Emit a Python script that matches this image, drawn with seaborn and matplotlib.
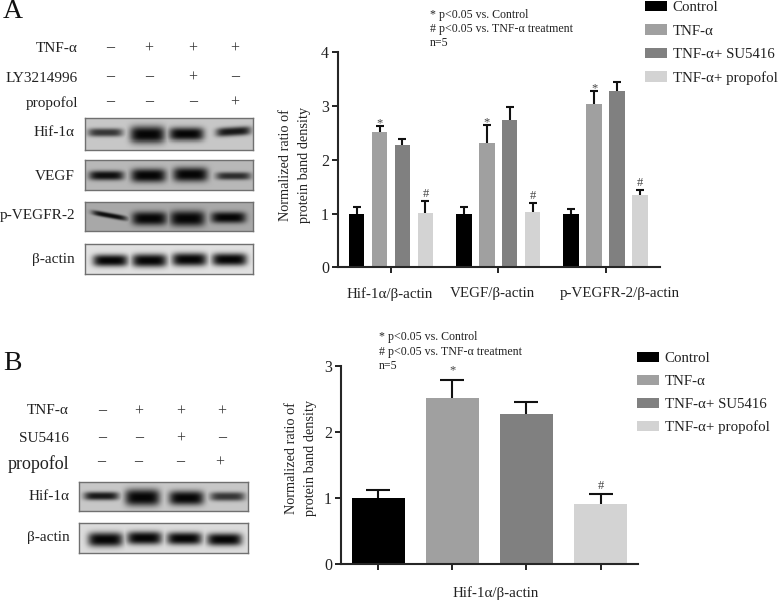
import numpy as np
import pandas as pd
import seaborn as sns
import matplotlib
matplotlib.use('Agg')
from matplotlib import pyplot as plt
from matplotlib.transforms import ScaledTranslation

sns.set_style('ticks')
plt.rcParams['font.family'] = ['Liberation Serif', 'DejaVu Sans']
plt.rcParams['axes.unicode_minus'] = False

W, H = 778, 602
colors = ['#000000', '#a0a0a0', '#808080', '#d3d3d3']
treatments = ['Control', 'TNF-α', 'TNF-α+ SU5416', 'TNF-α+ propofol']

# panel A bars
groups_a = ['Hif-1α/β-actin', 'VEGF/β-actin', 'p-VEGFR-2/β-actin']
control_a = [1.0, 1.0, 1.0]
tnf_a = [2.51, 2.32, 3.03]
su_a = [2.28, 2.74, 3.28]
prop_a = [1.01, 1.03, 1.34]
control_a_sd = [0.12, 0.12, 0.08]
tnf_a_sd = [0.11, 0.33, 0.25]
su_a_sd = [0.10, 0.24, 0.17]
prop_a_sd = [0.22, 0.17, 0.10]

# panel B bars
values_b = [1.01, 2.51, 2.28, 0.91]
sd_b = [0.12, 0.28, 0.17, 0.15]

# blots: darkness and thickness of the band in each lane
hif_a_dark = [0.75, 1.0, 1.0, 0.9]
hif_a_thick = [7, 14, 11, 7.5]
vegf_a_dark = [0.95, 1.0, 1.0, 0.78]
vegf_a_thick = [8, 11.5, 12, 6.5]
pvegfr_a_dark = [0.95, 1.0, 1.0, 1.0]
pvegfr_a_thick = [4.5, 11.5, 13, 9.5]
actin_a_dark = [1.0, 1.0, 1.0, 1.0]
actin_a_thick = [10, 11, 11, 10.5]
hif_b_dark = [0.9, 1.0, 1.0, 0.75]
hif_b_thick = [7, 14, 12, 7.5]
actin_b_dark = [1.0, 1.0, 1.0, 1.0]
actin_b_thick = [12, 11, 10.5, 10.5]

signs_a = [['–', '+', '+', '+'], ['–', '–', '+', '–'], ['–', '–', '–', '+']]
signs_b = [['–', '+', '+', '+'], ['–', '–', '+', '–'], ['–', '–', '–', '+']]

fig = plt.figure(figsize=(W / 100, H / 100), dpi=100)


def px_axes(x0, y0, x1, y1):
    return fig.add_axes([x0 / W, 1 - y1 / H, (x1 - x0) / W, (y1 - y0) / H])


def txt(x, y, s, size=11, ha='left', color='#222222', **kw):
    fig.text(x / W, 1 - y / H, s, fontsize=size, ha=ha, va='center', color=color, **kw)


def blot(box, bg, dark, thick, lanes, mids, tilts=(0, 0, 0, 0), half=17.5):
    x0, y0, x1, y1 = box
    xs = np.arange(x0, x1, 0.5)
    ys = np.arange(y0, y1, 0.5)
    xx, yy = np.meshgrid(xs, ys)
    img = np.full(xx.shape, bg, dtype=float)
    cover = np.zeros(xx.shape)
    for lane, mid, d, t, tilt in zip(lanes, mids, dark, thick, tilts):
        along = np.exp(-(np.abs(xx - lane) / half) ** 5)
        across = np.exp(-(np.abs(yy - mid - tilt * (xx - lane)) / (t * 0.6)) ** 2.6)
        cover = np.maximum(cover, d * along * across)
    img = img * (1 - cover) + 0.02 * cover
    ax = px_axes(x0, y0, x1, y1)
    sns.heatmap(img, ax=ax, cmap='gray', vmin=0, vmax=1, cbar=False,
                xticklabels=False, yticklabels=False, rasterized=True)
    for s in ax.spines.values():
        s.set_visible(True)
        s.set_color('#707070')
        s.set_linewidth(1.0)


def style_axes(ax, top):
    sns.despine(ax=ax)
    ax.set_ylim(0, top)
    ax.set_yticks(range(top + 1))
    ax.set_xlabel('')
    ax.set_ylabel('')
    ax.spines['left'].set_linewidth(1.5)
    ax.spines['bottom'].set_linewidth(1.5)
    ax.tick_params(axis='both', length=4.5, width=1.3, color='#111111', pad=2,
                   labelsize=11.5, labelcolor='#222222')
    ax.patch.set_alpha(0)


def add_errors(ax, bars, sds, capsize):
    for bar, sd in zip(bars, sds):
        cx = bar.get_x() + bar.get_width() / 2
        _, caps, _ = ax.errorbar(cx, bar.get_height(), yerr=[[0], [sd]], color='#111111',
                                 elinewidth=1.5, capsize=capsize, capthick=1.5, zorder=5)
        caps[0].set_visible(False)


def y_label(ax, x, y):
    ax.set_ylabel('Normalized ratio of\nprotein band density', fontsize=10.3, color='#222222',
                  linespacing=1.6, va='center')
    ax.yaxis.set_label_coords(x, y)


# panel A chart
df_a = pd.DataFrame({
    'group': groups_a * 4,
    'treatment': np.repeat(treatments, 3),
    'value': control_a + tnf_a + su_a + prop_a,
})
ax_a = px_axes(338, 52.3, 660, 267.3)
sns.barplot(data=df_a, x='group', y='value', hue='treatment', hue_order=treatments,
            palette=colors, saturation=1, width=0.857, gap=0.33, errorbar=None,
            linewidth=0, ax=ax_a)
style_axes(ax_a, 4)
ax_a.set_xlim(-0.494, 2.507)
sds_a = [control_a_sd, tnf_a_sd, su_a_sd, prop_a_sd]
for cont, sds in zip(ax_a.containers, sds_a):
    add_errors(ax_a, cont.patches, sds, 2.8)
for i in range(3):
    cx = ax_a.containers[1].patches[i]
    ax_a.text(cx.get_x() + cx.get_width() / 2, tnf_a[i] + tnf_a_sd[i] + 0.05, '*',
              ha='center', va='center', fontsize=9, color='#444444')
    cx = ax_a.containers[3].patches[i]
    ax_a.text(cx.get_x() + cx.get_width() / 2, prop_a[i] + prop_a_sd[i] + 0.13, '#',
              ha='center', va='center', fontsize=9, color='#444444')
ax_a.set_xticks(range(3), groups_a)
ax_a.tick_params(axis='x', pad=10, labelsize=10.8)
for lab, dx in zip(ax_a.get_xticklabels(), [-1, -6, 14]):
    lab.set_transform(lab.get_transform() + ScaledTranslation(dx / 100, 0, fig.dpi_scale_trans))
handles_a, _ = ax_a.get_legend_handles_labels()
ax_a.get_legend().remove()
fig.legend(handles_a, treatments, loc='upper left', bbox_to_anchor=(645 / W, 1 - 1 / H),
           frameon=False, fontsize=10.7, borderpad=0, borderaxespad=0, handlelength=1.47,
           handleheight=0.71, handletextpad=0.4, labelspacing=0.66, labelcolor='#222222')
y_label(ax_a, (295 - 338) / 322, (267.3 - 165) / 215)
txt(430, 14.7, '* p<0.05 vs. Control', 8.6)
txt(430, 29, '# p<0.05 vs. TNF-α treatment', 8.6)
txt(430, 43, 'n=5', 8.6)

# panel B chart
df_b = pd.DataFrame({'treatment': treatments, 'value': values_b})
ax_b = px_axes(341, 366, 638.3, 564.3)
sns.barplot(data=df_b, x='treatment', y='value', hue='treatment', hue_order=treatments,
            palette=colors, saturation=1, width=0.706, dodge=False, errorbar=None,
            linewidth=0, legend=True, ax=ax_b)
style_axes(ax_b, 3)
ax_b.set_xlim(-0.505, 3.51)
bars_b = sorted([b for b in ax_b.patches if b.get_height() > 0], key=lambda b: b.get_x())
add_errors(ax_b, bars_b, sd_b, 8.6)
ax_b.set_xticks(range(4), [''] * 4)
ax_b.text(1, values_b[1] + sd_b[1] + 0.14, '*', ha='center', va='center', fontsize=9, color='#444444')
ax_b.text(3, values_b[3] + sd_b[3] + 0.13, '#', ha='center', va='center', fontsize=9, color='#444444')
handles_b, _ = ax_b.get_legend_handles_labels()
ax_b.get_legend().remove()
fig.legend(handles_b, treatments, loc='upper left', bbox_to_anchor=(637 / W, 1 - 352 / H),
           frameon=False, fontsize=10.7, borderpad=0, borderaxespad=0, handlelength=1.47,
           handleheight=0.71, handletextpad=0.4, labelspacing=0.63, labelcolor='#222222')
y_label(ax_b, (301 - 341) / 297.3, (564.3 - 458) / 198.3)
ax_b.set_xlabel('Hif-1α/β-actin', fontsize=10.8, color='#222222')
ax_b.xaxis.set_label_coords((496 - 341) / 297.3, -(593 - 564.3) / 198.3)
ax_b.xaxis.label.set_verticalalignment('center')
txt(379, 337, '* p<0.05 vs. Control', 8.6)
txt(379, 352, '# p<0.05 vs. TNF-α treatment', 8.6)
txt(379, 366, 'n=5', 8.6)

# panel A blots
lanes_a = [105, 147, 186, 233]
blot((85, 118, 253, 150), 0.78, hif_a_dark, hif_a_thick, lanes_a, [132.5, 134.5, 134, 131.5],
     tilts=(0, 0, 0, -0.06))
blot((85, 160, 253, 190), 0.72, vegf_a_dark, vegf_a_thick, [106, 148, 190, 233],
     [175, 175, 174, 175.5])
blot((85, 202, 253, 231), 0.66, pvegfr_a_dark, pvegfr_a_thick, [109, 149, 187, 228],
     [215, 218, 218, 217], tilts=(0.18, 0, 0, 0))
blot((85, 244, 253, 274), 0.88, actin_a_dark, actin_a_thick, [110, 149, 189, 229],
     [260, 260, 259, 259])

# panel B blots
blot((79, 482, 248, 511), 0.78, hif_b_dark, hif_b_thick, [101, 142, 186, 227],
     [495.5, 497, 497.5, 496])
blot((79, 523, 248, 553), 0.86, actin_b_dark, actin_b_thick, [105, 144, 184, 224],
     [539, 537.5, 538, 539])

# panel letters and lane labels
txt(3, 12, 'A', 20, color='#111111')
txt(3, 364, 'B', 20, color='#111111')
for y, s in zip([48, 78, 103], ['TNF-α', 'LY3214996', 'propofol']):
    txt(78, y, s, 11, ha='right')
for y, s in zip([133, 176, 215, 259], ['Hif-1α', 'VEGF', 'p-VEGFR-2', 'β-actin']):
    txt(75, y, s, 11, ha='right')
for y, s, size in zip([411, 438, 464], ['TNF-α', 'SU5416', 'propofol'], [11, 11, 13]):
    txt(69, y, s, size, ha='right')
for y, s in zip([496, 537], ['Hif-1α', 'β-actin']):
    txt(70, y, s, 11, ha='right')


def sign(x, y, s):
    # the minus signs are heavier than the plus signs in the figure
    if s == '–':
        txt(x, y, s, 11.5, ha='center', color='#333333', fontweight='bold')
    else:
        txt(x, y + 1.5, s, 11.5, ha='center', color='#333333')


for y, row in zip([47, 76, 101], signs_a):
    for x, s in zip([110, 149, 193, 235], row):
        sign(x, y, s)
for y, row, cols in zip([410, 437, 461], signs_b,
                        [[102, 139, 181, 222], [102, 139, 181, 222], [101, 138, 180, 220]]):
    for x, s in zip(cols, row):
        sign(x, y, s)

fig.savefig('out.png', dpi=100)
